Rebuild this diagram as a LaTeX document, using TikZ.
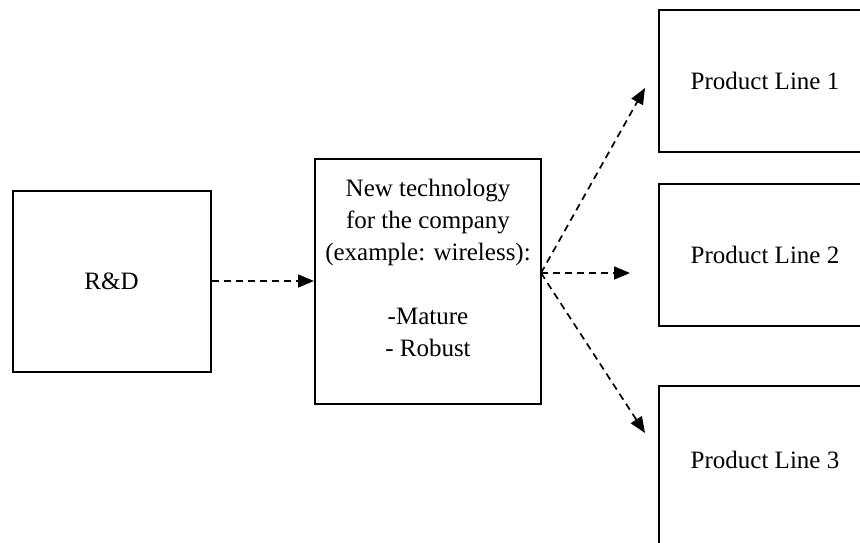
\documentclass[tikz,border=0pt]{standalone}
\usepackage{fontspec}
\setmainfont{Liberation Serif}
\usetikzlibrary{arrows.meta}

\begin{document}
\begin{tikzpicture}[x=1pt,y=-1pt,
  box/.style={draw=black, line width=2pt, rectangle, inner sep=0pt,
    font=\fontsize{25}{32}\selectfont, align=center},
  flow/.style={line width=1.7pt, dash pattern=on 7pt off 5pt,
    -{Triangle[length=16pt,width=13pt]}}
]
  \clip (0,0) rectangle (860,543);

  % boxes
  \node[box, minimum width=198pt, minimum height=181pt] (rd) at (111.5,281) {R\&D};
  \node[box, minimum width=226pt, minimum height=245pt] (tech) at (428,281)
    {New technology\\for the company\\(example: wireless):\\[32pt]-Mature\\- Robust\\[-6pt]\mbox{}};
  \node[box, minimum width=212pt, minimum height=142pt] (pl1) at (765,81) {Product Line 1};
  \node[box, minimum width=212pt, minimum height=142pt] (pl2) at (765,255) {Product Line 2};
  \node[box, minimum width=212pt, minimum height=180pt] (pl3) at (765,476) {};
  \node[font=\fontsize{25}{32}\selectfont] (pl3t) at (765,460) {Product Line 3};

  % fan-out point and arrow ends
  \coordinate (fan) at (541,273);
  \coordinate (e1) at (645,88);
  \coordinate (e2) at (630,273);
  \coordinate (e3) at (645,433);

  % connectors
  \draw[flow] (rd.east) -- (tech.west);
  \draw[flow] (fan) -- (e1);
  \draw[flow] (fan) -- (e2);
  \draw[flow] (fan) -- (e3);
\end{tikzpicture}
\end{document}
